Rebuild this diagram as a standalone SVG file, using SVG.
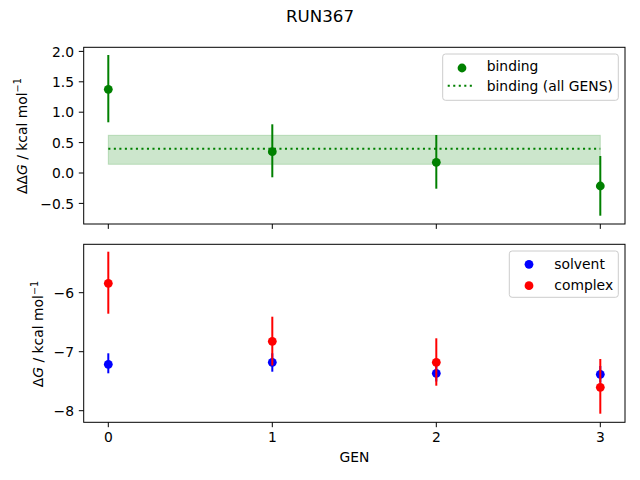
<svg xmlns="http://www.w3.org/2000/svg" width="640" height="480" viewBox="0 0 640 480">
<style>
text{font-family:"DejaVu Sans","Liberation Sans",sans-serif;fill:#000}
.tick{font-size:13.89px}
.tl{font-size:13.89px;text-anchor:end}
.tc{font-size:13.89px;text-anchor:middle}
.ax{fill:none;stroke:#000;stroke-width:1}
.tk{stroke:#000;stroke-width:1}
.eg{stroke:#008000;stroke-width:2}
.eb{stroke:#0000ff;stroke-width:2}
.er{stroke:#ff0000;stroke-width:2}
.leg{fill:#fff;fill-opacity:0.8;stroke:#cccccc;stroke-width:1}
.lt{font-size:13.89px}
</style>
<rect width="640" height="480" fill="#fff"/>
<text x="320" y="22.3" style="font-size:16.67px" text-anchor="middle">RUN367</text>

<g id="top-axes">
  <rect x="83.7" y="47.3" width="541.3" height="176.7" fill="#fff"/>
  <g id="band">
    <rect x="108.3" y="135.3" width="492" height="29" fill="#008000" fill-opacity="0.2" stroke="#008000" stroke-opacity="0.2" stroke-width="1"/>
    <line x1="108.3" y1="148.7" x2="600.3" y2="148.7" stroke="#008000" stroke-width="2.08" stroke-dasharray="2.08 3.44"/>
  </g>
  <g id="binding-points">
    <line class="eg" x1="108.3" y1="55" x2="108.3" y2="122.3"/>
    <line class="eg" x1="272.3" y1="124.3" x2="272.3" y2="177.3"/>
    <line class="eg" x1="436.3" y1="135" x2="436.3" y2="188.7"/>
    <line class="eg" x1="600.3" y1="156" x2="600.3" y2="215.7"/>
    <circle cx="108.3" cy="89.3" r="4.4" fill="#008000"/>
    <circle cx="272.3" cy="151.7" r="4.4" fill="#008000"/>
    <circle cx="436.3" cy="162.3" r="4.4" fill="#008000"/>
    <circle cx="600.3" cy="186" r="4.4" fill="#008000"/>
  </g>
  <rect class="ax" x="83.7" y="47.3" width="541.3" height="176.7"/>
  <g id="top-ticks">
    <line class="tk" x1="108.3" y1="224" x2="108.3" y2="228.9"/>
    <line class="tk" x1="272.3" y1="224" x2="272.3" y2="228.9"/>
    <line class="tk" x1="436.3" y1="224" x2="436.3" y2="228.9"/>
    <line class="tk" x1="600.3" y1="224" x2="600.3" y2="228.9"/>
    <line class="tk" x1="83.7" y1="51.4" x2="78.8" y2="51.4"/>
    <line class="tk" x1="83.7" y1="81.8" x2="78.8" y2="81.8"/>
    <line class="tk" x1="83.7" y1="112.2" x2="78.8" y2="112.2"/>
    <line class="tk" x1="83.7" y1="142.6" x2="78.8" y2="142.6"/>
    <line class="tk" x1="83.7" y1="173" x2="78.8" y2="173"/>
    <line class="tk" x1="83.7" y1="203.4" x2="78.8" y2="203.4"/>
    <text class="tl" x="74" y="56.5">2.0</text>
    <text class="tl" x="74" y="86.9">1.5</text>
    <text class="tl" x="74" y="117.3">1.0</text>
    <text class="tl" x="74" y="147.7">0.5</text>
    <text class="tl" x="74" y="178.1">0.0</text>
    <text class="tl" x="74" y="208.5">−0.5</text>
  </g>
  <text transform="translate(26.7,136) rotate(-90)" text-anchor="middle" style="font-size:13.89px">ΔΔ<tspan font-style="italic">G</tspan> / kcal mol<tspan dy="-5.5" style="font-size:9.7px">−1</tspan></text>
  <g id="top-legend">
    <rect class="leg" x="442.7" y="54" width="175.6" height="46.3" rx="2.8"/>
    <circle cx="462" cy="68" r="4.4" fill="#008000"/>
    <text class="lt" x="486.7" y="70.8">binding</text>
    <line x1="447.7" y1="85.7" x2="475" y2="85.7" stroke="#008000" stroke-width="2.08" stroke-dasharray="2.08 3.44"/>
    <text class="lt" x="486.7" y="91.3">binding (all GENS)</text>
  </g>
</g>

<g id="bottom-axes">
  <g id="solvent-points">
    <line class="eb" x1="108.3" y1="353.3" x2="108.3" y2="373.3"/>
    <line class="eb" x1="272.3" y1="353.3" x2="272.3" y2="371.7"/>
    <line class="eb" x1="436.3" y1="365" x2="436.3" y2="381.5"/>
    <line class="eb" x1="600.3" y1="366" x2="600.3" y2="382.5"/>
    <circle cx="108.3" cy="364.3" r="4.4" fill="#0000ff"/>
    <circle cx="272.3" cy="362.3" r="4.4" fill="#0000ff"/>
    <circle cx="436.3" cy="373.3" r="4.4" fill="#0000ff"/>
    <circle cx="600.3" cy="374.3" r="4.4" fill="#0000ff"/>
  </g>
  <g id="complex-points">
    <line class="er" x1="108.3" y1="251.7" x2="108.3" y2="313.7"/>
    <line class="er" x1="272.3" y1="316.7" x2="272.3" y2="365.5"/>
    <line class="er" x1="436.3" y1="338.3" x2="436.3" y2="385.7"/>
    <line class="er" x1="600.3" y1="359" x2="600.3" y2="413.7"/>
    <circle cx="108.3" cy="283.3" r="4.4" fill="#ff0000"/>
    <circle cx="272.3" cy="341.3" r="4.4" fill="#ff0000"/>
    <circle cx="436.3" cy="362.3" r="4.4" fill="#ff0000"/>
    <circle cx="600.3" cy="387.3" r="4.4" fill="#ff0000"/>
  </g>
  <rect class="ax" x="83.7" y="244.3" width="541.3" height="178"/>
  <g id="bottom-ticks">
    <line class="tk" x1="108.3" y1="422.3" x2="108.3" y2="427.2"/>
    <line class="tk" x1="272.3" y1="422.3" x2="272.3" y2="427.2"/>
    <line class="tk" x1="436.3" y1="422.3" x2="436.3" y2="427.2"/>
    <line class="tk" x1="600.3" y1="422.3" x2="600.3" y2="427.2"/>
    <text class="tc" x="108.3" y="441.8">0</text>
    <text class="tc" x="272.3" y="441.8">1</text>
    <text class="tc" x="436.3" y="441.8">2</text>
    <text class="tc" x="600.3" y="441.8">3</text>
    <line class="tk" x1="83.7" y1="292.7" x2="78.8" y2="292.7"/>
    <line class="tk" x1="83.7" y1="351.7" x2="78.8" y2="351.7"/>
    <line class="tk" x1="83.7" y1="410.7" x2="78.8" y2="410.7"/>
    <text class="tl" x="74" y="297.8">−6</text>
    <text class="tl" x="74" y="356.8">−7</text>
    <text class="tl" x="74" y="415.8">−8</text>
  </g>
  <text class="tc" x="354.4" y="461.7">GEN</text>
  <text transform="translate(43.4,334) rotate(-90)" text-anchor="middle" style="font-size:13.89px">Δ<tspan font-style="italic">G</tspan> / kcal mol<tspan dy="-5.5" style="font-size:9.7px">−1</tspan></text>
  <g id="bottom-legend">
    <rect class="leg" x="509.3" y="251" width="109" height="46.3" rx="2.8"/>
    <circle cx="529" cy="264.3" r="4.4" fill="#0000ff"/>
    <text class="lt" x="554.3" y="268.6">solvent</text>
    <circle cx="529" cy="285.7" r="4.4" fill="#ff0000"/>
    <text class="lt" x="554.3" y="289.6">complex</text>
  </g>
</g>
</svg>
